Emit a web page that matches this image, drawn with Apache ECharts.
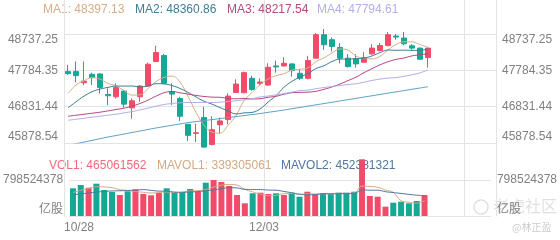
<!DOCTYPE html>
<html><head><meta charset="utf-8">
<script src="https://cdn.jsdelivr.net/npm/echarts@6/dist/echarts.min.js"></script>
<style>html,body{margin:0;padding:0;background:#fff}#c{width:560px;height:240px}</style>
</head><body><div id="c"></div>
<script>
// ---- data ----
const categories = ['10/28','10/29','10/30','10/31','11/01','11/04','11/05','11/06','11/07','11/08','11/11','11/12','11/13','11/14','11/15','11/18','11/19','11/20','11/21','11/22','11/25','11/26','11/27','11/29','12/02','12/03','12/04','12/05','12/06','12/09','12/10','12/11','12/12','12/13','12/16','12/17','12/18','12/19','12/20','12/23','12/24','12/26','12/27','12/30','12/31','01/02'];
const futureSlots = ['','','','','','','',''];
const openV  = [47751,47751,47460,47680,47689,47152,47091,47240,46800,47091,47372,48015,48173,47223,47047,46369,46132,46545,45841,46360,46492,47205,47196,47575,47443,47399,47900,47900,47953,47707,47575,48103,48719,48587,48384,48103,48085,47997,48217,48305,48437,48684,48631,48428,48367,48120];
const closeV = [47698,47645,47504,47592,47337,47117,47337,46897,46985,47372,47944,48252,47443,47161,46580,46079,46149,45771,46228,46457,47108,47425,47724,47284,47478,47865,47874,47971,47777,47575,48041,48718,48455,48411,48103,47883,47953,48120,48367,48437,48719,48657,48481,48367,48076,48367];
const lowV   = [47663,47469,47399,47399,47179,46871,47047,46809,46519,46959,47355,48015,47425,46871,46457,45929,45903,45753,45815,46123,46369,47196,47196,47249,47399,47372,47724,47883,47619,47531,47548,48103,48323,48279,47971,47856,47856,47988,48191,48279,48411,48587,48437,48323,48059,47856];
const highV  = [47927,48015,48015,47724,47707,47311,47443,47267,47047,47399,47988,48428,48217,47443,47091,46369,46387,46827,46580,46545,47179,47548,47751,47645,47575,47971,48041,48129,47971,47812,48164,48764,48869,48648,48499,48208,48208,48261,48472,48499,48789,48736,48789,48472,48384,48384];
const ma1 = [47179,47399,47513,47592,47555,47439,47377,47256,47135,47142,47307,47490,47599,47634,47476,47103,46682,46348,46161,46137,46343,46598,46988,47200,47404,47555,47645,47694,47793,47812,47848,48016,48113,48240,48346,48314,48161,48094,48085,48152,48319,48460,48532,48532,48460,48390];
const ma2 = [46800,46959,47108,47223,47293,47337,47372,47372,47372,47348,47373,47434,47428,47385,47309,47205,47086,46974,46898,46806,46723,46640,46668,46681,46770,46949,47121,47341,47496,47608,47701,47831,47904,48017,48079,48081,48089,48104,48163,48249,48317,48311,48313,48309,48306,48354];
const ma3 = [46580,46607,46633,46660,46686,46721,46756,46792,46844,46915,47003,47108,47196,47231,47196,47161,47126,47099,47082,47077,47048,47037,47048,47033,47040,47077,47104,47158,47197,47207,47212,47235,47286,47349,47425,47515,47605,47723,47829,47928,48009,48071,48108,48163,48193,48218];
const ma4 = [46475,46501,46528,46554,46580,46607,46633,46668,46703,46747,46792,46844,46888,46915,46932,46941,46941,46941,46941,46950,46968,46985,47011,47038,47085,47110,47140,47175,47215,47254,47266,47302,47333,47361,47386,47412,47432,47473,47519,47554,47580,47594,47628,47669,47718,47795];
const ma5 = [45815,45859,45903,45947,45991,46035,46074,46114,46154,46193,46233,46272,46308,46343,46378,46413,46440,46466,46492,46519,46545,46572,46598,46624,46651,46682,46712,46743,46778,46811,46845,46880,46913,46947,46982,47015,47049,47084,47117,47152,47186,47219,47254,47288,47321,47355];
const volume = [614420000,687618000,627729000,716454000,576712000,532350000,465806000,547876000,592239000,487987000,459152000,510168000,614420000,525695000,532350000,598893000,539004000,738635000,798524000,754162000,665437000,465806000,281702000,503514000,516823000,487987000,503514000,465806000,516823000,428098000,539004000,487987000,503514000,487987000,516823000,516823000,539004000,1257676000,443625000,428098000,206285000,295010000,317192000,281702000,332718000,465061562];
const mavol1 = [520e6,570e6,610e6,650e6,644.6e6,628.2e6,583.8e6,567.9e6,543.0e6,525.3e6,510.6e6,519.5e6,532.8e6,519.5e6,528.4e6,556.3e6,562.1e6,586.9e6,641.5e6,685.8e6,699.1e6,684.5e6,593.1e6,534.1e6,486.6e6,451.2e6,458.7e6,495.5e6,498.2e6,480.4e6,490.6e6,487.5e6,495.1e6,489.3e6,507.1e6,502.6e6,512.8e6,663.7e6,654.8e6,637.0e6,574.9e6,526.1e6,338.0e6,305.7e6,286.6e6,339.3e6];
const mavol2 = [470e6,490e6,510e6,530e6,545e6,555e6,560e6,565e6,575e6,584.9e6,569.4e6,551.7e6,550.3e6,531.3e6,526.8e6,533.5e6,540.8e6,559.9e6,580.5e6,607.1e6,627.7e6,623.3e6,590.0e6,587.8e6,586.2e6,575.2e6,571.6e6,544.3e6,516.2e6,483.5e6,470.9e6,473.1e6,495.3e6,493.8e6,493.8e6,496.6e6,500.2e6,579.4e6,572.1e6,572.1e6,538.8e6,519.5e6,500.9e6,480.2e6,461.8e6,452.4e6];
const priceTicks = [45878.54, 46831.44, 47784.35, 48737.25];
const volumeTicks = [0, 798524378];
const volumeUnit = '亿股';
const maNames = ['MA1','MA2','MA3','MA4'];
const maLegendValues = ['48397.13','48360.86','48217.54','47794.61'];
const volNames = ['VOL1','MAVOL1','MAVOL2'];
const volLegendValues = ['465061562','339305061','452381321'];
const watermark = ['老虎社区','@林正盈'];

// ---- style ----
const RED = '#f24b69', TEAL = '#15a895';
const MA_COLORS = ['#d8ae88','#3f7d98','#b6477f','#b2aeea'];
const MA5_COLOR = '#5d9fc6';
const VOL_COLORS = ['#f26a7c','#d4a985','#4f77a0'];
const GRID_COLOR = '#e4e4e4';
const LABEL_COLOR = '#808080';
const FONT = '"Liberation Sans", Arial, "Noto Sans CJK SC", sans-serif';

const axisCats = categories.concat(futureSlots);
const boundaryCats = axisCats.concat(['']); // one entry per band boundary
const pMin = priceTicks[0], pMax = priceTicks[priceTicks.length-1];
const pInterval = (pMax - pMin) / (priceTicks.length - 1);
const vMax = volumeTicks[1];

function priceAxis(pos, showSplit) {
  return {
    type: 'value', gridIndex: 0, position: pos, min: pMin, max: pMax, interval: pInterval,
    axisLine: {show: false}, axisTick: {show: false},
    axisLabel: {color: LABEL_COLOR, fontSize: 12, fontFamily: FONT, margin: 6,
      formatter: v => v.toFixed(2), verticalAlignMaxLabel: 'top', verticalAlignMinLabel: 'bottom'},
    splitLine: {show: showSplit, lineStyle: {color: GRID_COLOR, width: 1}}
  };
}
function volAxis(pos, showSplit) {
  return {
    type: 'value', gridIndex: 1, position: pos, min: 0, max: vMax, interval: vMax,
    axisLine: {show: false}, axisTick: {show: false},
    axisLabel: {color: LABEL_COLOR, fontSize: 12, fontFamily: FONT, margin: 6,
      formatter: v => (v === 0 ? volumeUnit : String(v)), verticalAlignMinLabel: 'bottom'},
    splitLine: {show: showSplit, lineStyle: {color: GRID_COLOR, width: 1}}
  };
}
function maLine(data, color, xi, yi) {
  return {type: 'line', data: data, xAxisIndex: xi, yAxisIndex: yi, symbol: 'none', smooth: 0.4,
    lineStyle: {width: 1, color: color}, itemStyle: {color: color}, z: 3, silent: true};
}

const graphics = [];
const maX = [43, 135, 227, 317];
maNames.forEach((n, i) => graphics.push({type: 'text', left: maX[i], top: 4, z: 0,
  style: {text: n + ': ' + maLegendValues[i], fill: MA_COLORS[i], font: '12px ' + FONT}}));
const volX = [49, 157, 281];
volNames.forEach((n, i) => graphics.push({type: 'text', left: volX[i], top: 160, z: 0,
  style: {text: n + ': ' + volLegendValues[i], fill: VOL_COLORS[i], font: '12px ' + FONT}}));
graphics.push({type: 'circle', shape: {cx: 481, cy: 207, r: 7}, z: 0,
  style: {fill: 'none', stroke: 'rgba(0,0,0,0.12)', lineWidth: 1.5}});
graphics.push({type: 'text', left: 493, top: 198, z: 0,
  style: {text: watermark[0], fill: 'rgba(0,0,0,0.13)', font: '16px "Noto Sans CJK SC", sans-serif'}});
graphics.push({type: 'text', left: 512, top: 222, z: 0,
  style: {text: watermark[1], fill: 'rgba(0,0,0,0.22)', font: '10px "Noto Sans CJK SC", sans-serif'}});

const option = {
  animation: false,
  backgroundColor: '#fff',
  textStyle: {fontFamily: FONT},
  grid: [
    {left: 64, right: 64, top: 34, height: 109},
    {left: 64, right: 64, top: 180, height: 36},
    {left: 64, right: 64, top: 0, height: 216}
  ],
  xAxis: [
    {type: 'category', gridIndex: 0, data: axisCats, axisLine: {show: false}, axisTick: {show: false},
      axisLabel: {show: false}, splitLine: {show: false}},
    {type: 'category', gridIndex: 1, data: axisCats, axisLine: {show: false}, axisTick: {show: false},
      axisLabel: {show: false}, splitLine: {show: false}},
    {type: 'category', gridIndex: 2, data: boundaryCats, boundaryGap: false, axisLine: {show: false},
      axisTick: {show: false, interval: 24},
      axisLabel: {show: true, interval: 24, color: LABEL_COLOR, fontSize: 12, fontFamily: FONT, margin: 6,
        alignMinLabel: 'left'},
      splitLine: {show: true, interval: 24, lineStyle: {color: GRID_COLOR, width: 1}}}
  ],
  yAxis: [
    priceAxis('left', true), priceAxis('right', false),
    volAxis('left', true), volAxis('right', false),
    {type: 'value', gridIndex: 2, position: 'right', min: 0, max: 1,
      axisLine: {show: true, lineStyle: {color: GRID_COLOR, width: 1}}, axisTick: {show: false},
      axisLabel: {show: false}, splitLine: {show: false}}
  ],
  graphic: graphics,
  series: [
    {type: 'candlestick', xAxisIndex: 0, yAxisIndex: 0, barWidth: 6, clip: false,
      data: openV.map((o, i) => [o, closeV[i], lowV[i], highV[i]]),
      itemStyle: {color: RED, color0: TEAL, borderColor: RED, borderColor0: TEAL, borderWidth: 1}, z: 2},
    maLine(ma1, MA_COLORS[0], 0, 0),
    maLine(ma2, MA_COLORS[1], 0, 0),
    maLine(ma3, MA_COLORS[2], 0, 0),
    maLine(ma4, MA_COLORS[3], 0, 0),
    maLine(ma5, MA5_COLOR, 0, 0),
    {type: 'bar', xAxisIndex: 1, yAxisIndex: 2, barWidth: 6, clip: false, z: 2,
      data: volume.map((v, i) => ({value: v, itemStyle: {color: closeV[i] >= openV[i] ? RED : TEAL}}))},
    maLine(mavol1, VOL_COLORS[1], 1, 2),
    maLine(mavol2, VOL_COLORS[2], 1, 2)
  ]
};
const chart = echarts.init(document.getElementById('c'), null, {renderer: 'canvas'});
chart.setOption(option);
</script>
</body></html>
